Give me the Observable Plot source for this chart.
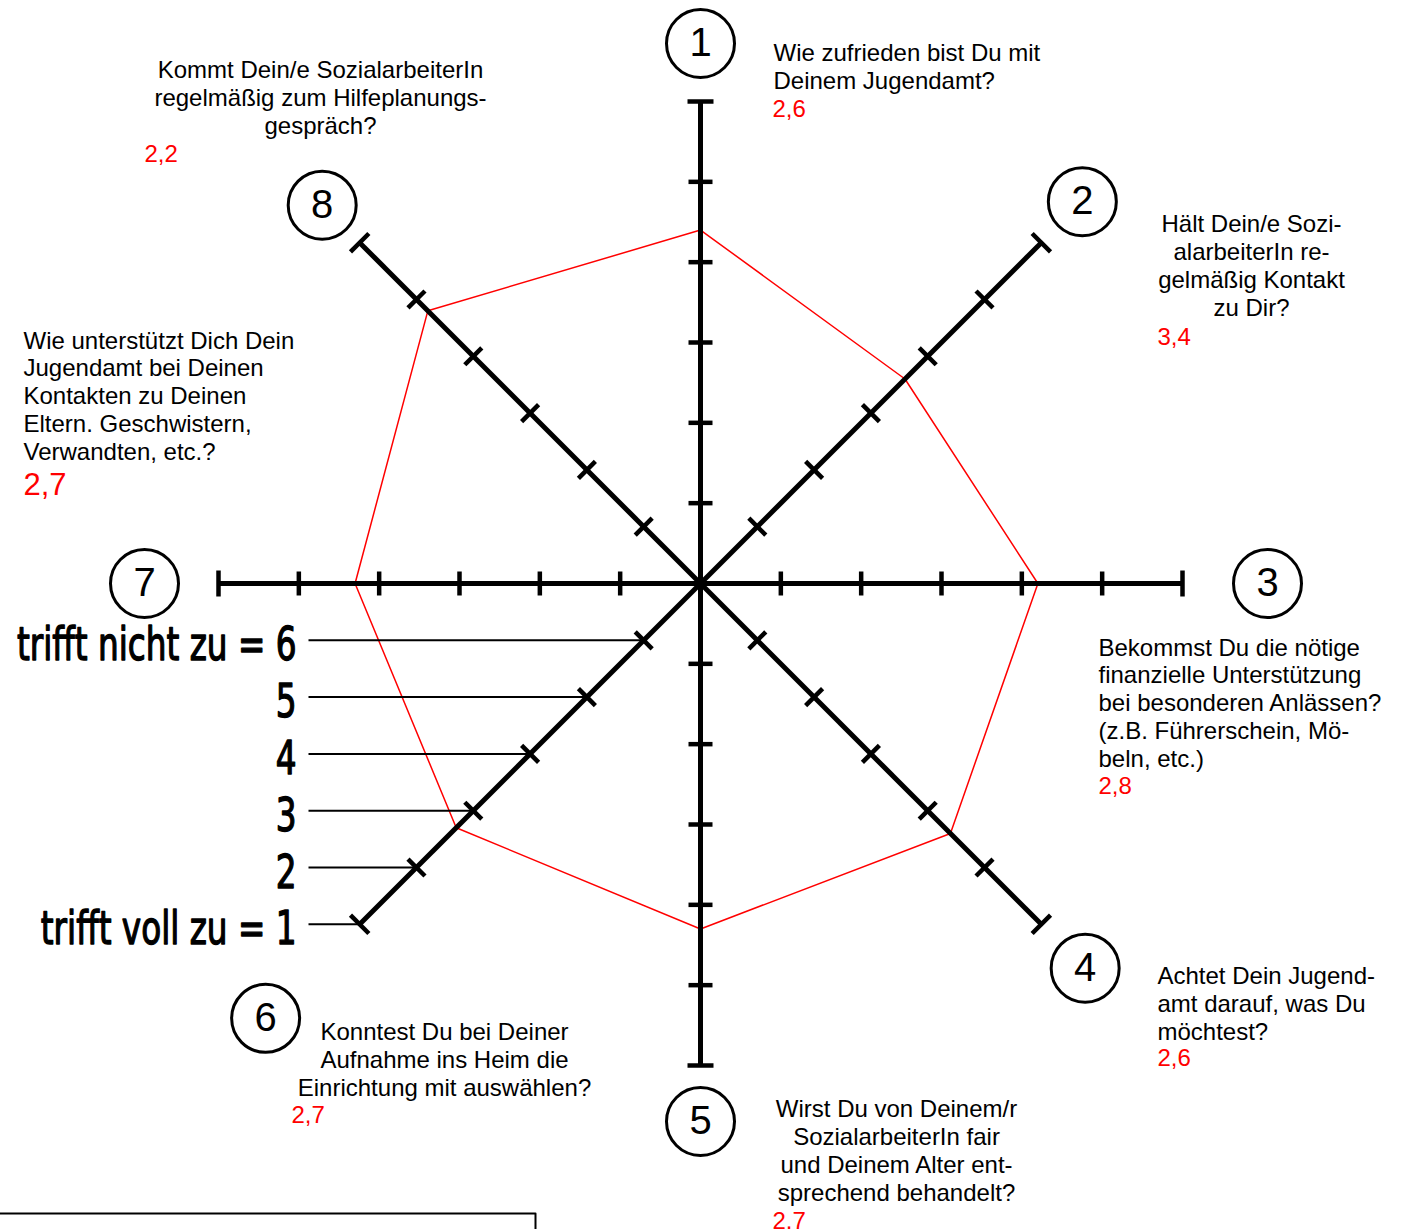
<!DOCTYPE html>
<html><head><meta charset="utf-8">
<script src="https://cdn.jsdelivr.net/npm/d3@7"></script>
<script src="https://cdn.jsdelivr.net/npm/@observablehq/plot@0.6"></script>
<style>
html,body{margin:0;padding:0;background:#fff;}
#chart svg{display:block;}
</style></head><body><div id="chart"></div>
<script>
// ---------- DATA ----------
const axisIds = ["1", "2", "3", "4", "5", "6", "7", "8"];
const questions = [
  "Wie zufrieden bist Du mit\nDeinem Jugendamt?",
  "Hält Dein/e Sozi-\nalarbeiterIn re-\ngelmäßig Kontakt\nzu Dir?",
  "Bekommst Du die nötige\nfinanzielle Unterstützung\nbei besonderen Anlässen?\n(z.B. Führerschein, Mö-\nbeln, etc.)",
  "Achtet Dein Jugend-\namt darauf, was Du\nmöchtest?",
  "Wirst Du von Deinem/r\nSozialarbeiterIn fair\nund Deinem Alter ent-\nsprechend behandelt?",
  "Konntest Du bei Deiner\nAufnahme ins Heim die\nEinrichtung mit auswählen?",
  "Wie unterstützt Dich Dein\nJugendamt bei Deinen\nKontakten zu Deinen\nEltern. Geschwistern,\nVerwandten, etc.?",
  "Kommt Dein/e SozialarbeiterIn\nregelmäßig zum Hilfeplanungs-\ngespräch?"
];
const meanValues = [2.6, 3.4, 2.8, 2.6, 2.7, 2.7, 2.7, 2.2];
const meanLabels = ["2,6", "3,4", "2,8", "2,6", "2.7", "2,7", "2,7", "2,2"];
const scaleValues = [1, 2, 3, 4, 5, 6];
const scaleLabels = ["trifft voll zu = 1", "2", "3", "4", "5", "trifft nicht zu = 6"];

// ---------- LAYOUT ----------
const W = 1404, H = 1229, CX = 700, CY = 583;
const rScale = d3.scaleLinear().domain([7, 1]).range([0, 482]);
const ang = i => i * Math.PI / 4;
const pt = (i, r) => [CX + r * Math.sin(ang(i)), CY - r * Math.cos(ang(i))];
const circleDist = [540, 540, 567, 544, 538, 615, 556, 535];
const qPos = [
  {x: 773, y: 88, a: "start"}, {x: 1251, y: 315, a: "middle"}, {x: 1098, y: 766, a: "start"},
  {x: 1157, y: 1039, a: "start"}, {x: 896, y: 1200, a: "middle"}, {x: 444, y: 1095, a: "middle"},
  {x: 23, y: 459, a: "start"}, {x: 320, y: 133, a: "middle"}
];
const vPos = [
  {x: 772, y: 116, s: 24}, {x: 1157, y: 344, s: 24}, {x: 1098, y: 793, s: 24}, {x: 1157, y: 1065, s: 24},
  {x: 772, y: 1228, s: 24}, {x: 291, y: 1122, s: 24}, {x: 23, y: 494, s: 31}, {x: 144, y: 161, s: 24}
];
const LABEL_FONT = "'DejaVu Sans Condensed', 'DejaVu Sans', sans-serif";

// ---------- DERIVED ----------
const axisLines = axisIds.map((id, i) => {
  const [x2, y2] = pt(i, rScale(1));
  return {x1: CX, y1: CY, x2, y2};
});
const ticks = [];
axisIds.forEach((id, i) => {
  const a = ang(i);
  scaleValues.forEach(v => {
    const [px, py] = pt(i, rScale(v));
    const h = v === 1 ? 13 : 12;
    ticks.push({x1: px - h * Math.cos(a), y1: py - h * Math.sin(a), x2: px + h * Math.cos(a), y2: py + h * Math.sin(a)});
  });
});
const poly = meanValues.map((v, i) => { const [x, y] = pt(i, rScale(v)); return {x, y}; });
const circles = axisIds.map((id, i) => { const [x, y] = pt(i, circleDist[i]); return {x, y, id}; });
const leaders = scaleValues.map((v, k) => {
  const [x, y] = pt(5, rScale(v));
  return {x1: 308, y1: y, x2: x, y2: y, label: scaleLabels[k]};
});
const qData = questions.map((q, i) => ({q, ...qPos[i]}));
const vData = meanLabels.map((t, i) => ({t, ...vPos[i]}));

const font = "'Liberation Sans', Arial, sans-serif";
const chart = Plot.plot({
  width: W, height: H, margin: 0,
  x: {domain: [0, W], range: [0, W], axis: null},
  y: {domain: [0, H], range: [0, H], axis: null},
  style: {background: "white"},
  marks: [
    Plot.line([[0, 1213], [535, 1213], [535, 1240]], {stroke: "black", strokeWidth: 2}),
    Plot.line(poly, {x: "x", y: "y", curve: "linear-closed", stroke: "#ff0000", strokeWidth: 1.5}),
    Plot.link(axisLines, {x1: "x1", y1: "y1", x2: "x2", y2: "y2", stroke: "black", strokeWidth: 5}),
    Plot.link(ticks, {x1: "x1", y1: "y1", x2: "x2", y2: "y2", stroke: "black", strokeWidth: 4.5}),
    Plot.link(leaders, {x1: "x1", y1: "y1", x2: "x2", y2: "y2", stroke: "black", strokeWidth: 2}),
    Plot.text(leaders, {x: d => 296, y: d => d.y1 + 20, text: "label", textAnchor: "end", lineAnchor: "bottom",
      fontSize: 46, fontFamily: LABEL_FONT,
      fill: "black", stroke: "black", strokeWidth: 1.3}),
    Plot.dot(circles, {x: "x", y: "y", r: 34, stroke: "black", strokeWidth: 3, fill: "none"}),
    Plot.text(circles, {x: "x", y: "y", text: "id", fontSize: 40, fontFamily: font, lineAnchor: "middle", fill: "black"}),
    Plot.text(qData.filter(d => d.a === "start"), {x: "x", y: "y", text: "q", textAnchor: "start", lineAnchor: "bottom",
      lineHeight: 1.156, fontSize: 24, fontFamily: font, fill: "black"}),
    Plot.text(qData.filter(d => d.a === "middle"), {x: "x", y: "y", text: "q", textAnchor: "middle", lineAnchor: "bottom",
      lineHeight: 1.156, fontSize: 24, fontFamily: font, fill: "black"}),
    Plot.text(vData, {x: "x", y: "y", text: "t", textAnchor: "start", lineAnchor: "bottom",
      fontSize: "s", fontFamily: font, fill: "#ff0000"})
  ]
});
// condense the hand-lettered scale labels horizontally (anchored at their right end)
chart.querySelectorAll("g").forEach(g => {
  if ((g.getAttribute("font-family") || "").includes("Condensed")) {
    g.querySelectorAll("text").forEach(t => {
      let tr = t.getAttribute("transform") || "";
      if (!tr.includes("translate")) {
        const x = +t.getAttribute("x") || 0, y = +t.getAttribute("y") || 0;
        t.removeAttribute("x"); t.removeAttribute("y");
        tr = `translate(${x},${y})`;
      }
      t.setAttribute("transform", tr + " scale(0.79,1)");
    });
  }
});
document.getElementById("chart").appendChild(chart);
</script></body></html>
